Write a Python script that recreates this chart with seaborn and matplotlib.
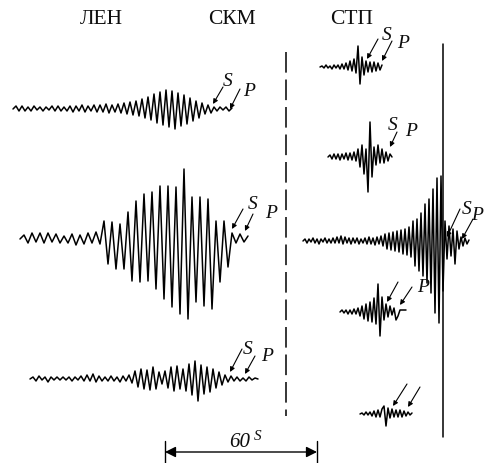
import numpy as np
import pandas as pd
import matplotlib
matplotlib.use("Agg")
import matplotlib.pyplot as plt
import seaborn as sns

# ---------------- data: trace amplitudes (upward deflection, px) ----------------
len_1 = [0, 3, -2, 3, -2, 2, -2, 3, -1, 2, -2, 2, -1, 3, -2, 3, -2, 2, -2, 3, -3, 3, -2, 4, -3, 3, -2, 4, -3, 4, -3, 5, -4, 4, -3, 5,
         -4, 6, -5, 7, -6, 8, -7, 10, -9,
         12, -11, 15, -14, 17, -16, 19, -18, 18, -20, 16, -17, 14, -15,
         11, -12, 8, -9, 6, -5, 4, -4,
         2, -2, 2, -1, 2, -2, 1]
len_2 = [0, 4, -4, 6, -3, 6, -4, 6, -3, 5, -4, 3, -4, 5, -6, 4, -5, 6, -4, 7, -5,
         18, -25, 17, -30, 15, -30, 27, -42, 38, -43, 45, -42, 47, -50, 53, -60, 53, -68, 52, -75,
         70, -80, 42, -63, 42, -67, 40, -70, 18, -43, 18, -28, 6, -4, 5, -3, 3]
len_3 = [0, 2, -2, 3, -1, 2, -3, 2, -1, 2, -1, 2, -1, 2, -2, 2, -1, 3, -2, 4, -2, 5, -3, 3, -2, 2, -2, 3, -2, 2, -3, 3, -2, 4,
         -4, 8, -8, 10, -10, 9, -11, 12, -10, 7, -5,
         8, -9, 12, -12, 13, -10, 10, -12, 15, -16, 18, -22, 14, -15, 12, -13, 10, -9, 7, -6,
         4, -3, 3, -2, 2, -2, 1, -2, 2, -1, 1, 0]
stp_1 = [0, 1, -1, 2, -1, 1, -2, 2, -1, 2, -2, 3,
         -2, 4, -3, 6, -4, 8, -6,
         21, -17, 10, -8,
         6, -5, 5, -5, 5, -4, 4, -3, 2]
stp_2 = [0, 2, -2, 3, -2, 3, -3, 3, -2, 4, -3, 4, -3, 5, -4, 8,
         -10, 12, -17, 8,
         -35, 35, -20,
         10, -8, 12, -6, 8, -6, 5, -4, 3, 0]
stp_3 = [0, 2, -2, 2, -1, 3, -2, 2, -3, 2, -1, 3, -2, 2, -2, 3, -2, 4, -2, 5, -3, 4, -2, 3, -3, 3, -2, 3, -3, 2, -2, 3, -3, 4, -3, 3, -4, 4, -3, 5,
         -5, 7, -8, 8, -9, 9, -10, 10,
         -11, 11, -13, 12, -14, 14, -16, 20, -25,
         22, -30, 28, -35, 37, -42, 42, -52, 52, -72, 63, -82, 65,
         -50, 20, -18, 15, -15, 12, -23, 10, -8, 4, -5, 3, -3, 1]
stp_4 = [0, 2, -1, 2, -2, 2, -2, 3, -2, 4, -4, 6, -7,
         8, -9, 10, -10, 14, -12,
         28, -24, 15, -8,
         8, -5, 6, -3, 4, -8, -4, 2, 2, 2, 2]
stp_5 = [0, 1, -1, 2, -1, 2, -2, 3, -3, 4, -3,
         5, 8, -12, 6,
         -4, 5, -3, 4, -3, 4, -3, 3, -2, 2, -1, 1]

station_labels = ["ЛЕН", "СКМ", "СТП"]
wave_labels = ["S", "P"]
scale_label = "60"
scale_unit = "S"

# ---------------- layout (pixel coordinates) ----------------
W, H = 484, 464
# name: (values, x_start, x_step, baseline)
layout = {
    "len_1": (len_1, 13, 3, 110),
    "len_2": (len_2, 20, 4, 240),
    "len_3": (len_3, 30, 3, 380),
    "stp_1": (stp_1, 320, 2, 68),
    "stp_2": (stp_2, 328, 2, 158),
    "stp_3": (stp_3, 303, 2, 242),
    "stp_4": (stp_4, 340, 2, 313),
    "stp_5": (stp_5, 360, 2, 415),
}

frames = []
for name, (vals, x0, dx, base) in layout.items():
    v = np.asarray(vals, dtype=float)
    frames.append(pd.DataFrame({
        "x": x0 + dx * np.arange(len(v)),
        "y": base - v,
        "trace": name,
    }))
df = pd.concat(frames, ignore_index=True)

sns.set_theme(style="white")
plt.rcParams["font.family"] = ["Liberation Serif", "DejaVu Serif"]

fig = plt.figure(figsize=(W / 100, H / 100), dpi=100)
ax = fig.add_axes([0, 0, 1, 1])
sns.lineplot(data=df, x="x", y="y", units="trace", estimator=None, sort=False,
             color="black", lw=1.1, ax=ax, legend=False)
ax.set_xlim(0, W)
ax.set_ylim(H, 0)
ax.axis("off")

# station labels
for lab, (x, y) in zip(station_labels, [(101, 20), (232, 20), (352, 20)]):
    ax.text(x, y, lab, ha="center", va="center", fontsize=15.5, color="#0d0d0d")

# separators
ax.plot([286, 286], [53, 417], color="black", lw=1.1, linestyle=(0, (13.5, 4.5)))
ax.plot([443, 443], [45, 438], color="black", lw=1.1)

# arrows: (tail, head)
arrows = [
    ((223, 88), (213, 105)), ((240, 90), (230, 110)),
    ((243, 210), (232, 230)), ((253, 215), (245, 232)),
    ((242, 350), (230, 373)), ((255, 357), (245, 375)),
    ((378, 40), (367, 60)), ((392, 42), (382, 62)),
    ((397, 133), (390, 148)),
    ((460, 210), (447, 238)), ((473, 220), (462, 240)),
    ((398, 283), (387, 303)), ((412, 288), (400, 306)),
    ((407, 385), (393, 407)), ((420, 388), (408, 408)),
]
for tail, head in arrows:
    ax.annotate("", xy=head, xytext=tail,
                arrowprops=dict(arrowstyle="-|>", color="black", lw=0.8,
                                mutation_scale=7, shrinkA=0, shrinkB=0))

# S / P labels
sp = [
    ("S", 228, 82, "center"), ("P", 249, 92, "center"),
    ("S", 253, 205, "center"), ("P", 271, 214, "center"),
    ("S", 248, 350, "center"), ("P", 267, 357, "center"),
    ("S", 387, 35, "center"), ("P", 403, 43, "center"),
    ("S", 393, 125, "center"), ("P", 411, 132, "center"),
    ("S", 467, 210, "center"), ("P", 483, 216, "right"),
    ("P", 423, 288, "center"),
]
for t, x, y, ha in sp:
    ax.text(x, y, t, ha=ha, va="center", fontsize=14, style="italic", color="#0d0d0d")

# time scale
ax.annotate("", xy=(165, 453), xytext=(317, 453),
            arrowprops=dict(arrowstyle="<|-|>", color="black", lw=1.0,
                            mutation_scale=16, shrinkA=0, shrinkB=0))
ax.plot([165, 165], [442, 464], color="black", lw=1.0)
ax.plot([317, 317], [442, 464], color="black", lw=1.0)
ax.text(240, 443, scale_label, ha="center", va="center", fontsize=15, style="italic", color="#0d0d0d")
ax.text(258, 437, scale_unit, ha="center", va="center", fontsize=11, style="italic", color="#0d0d0d")

fig.savefig("out.png", dpi=100, facecolor="white")
